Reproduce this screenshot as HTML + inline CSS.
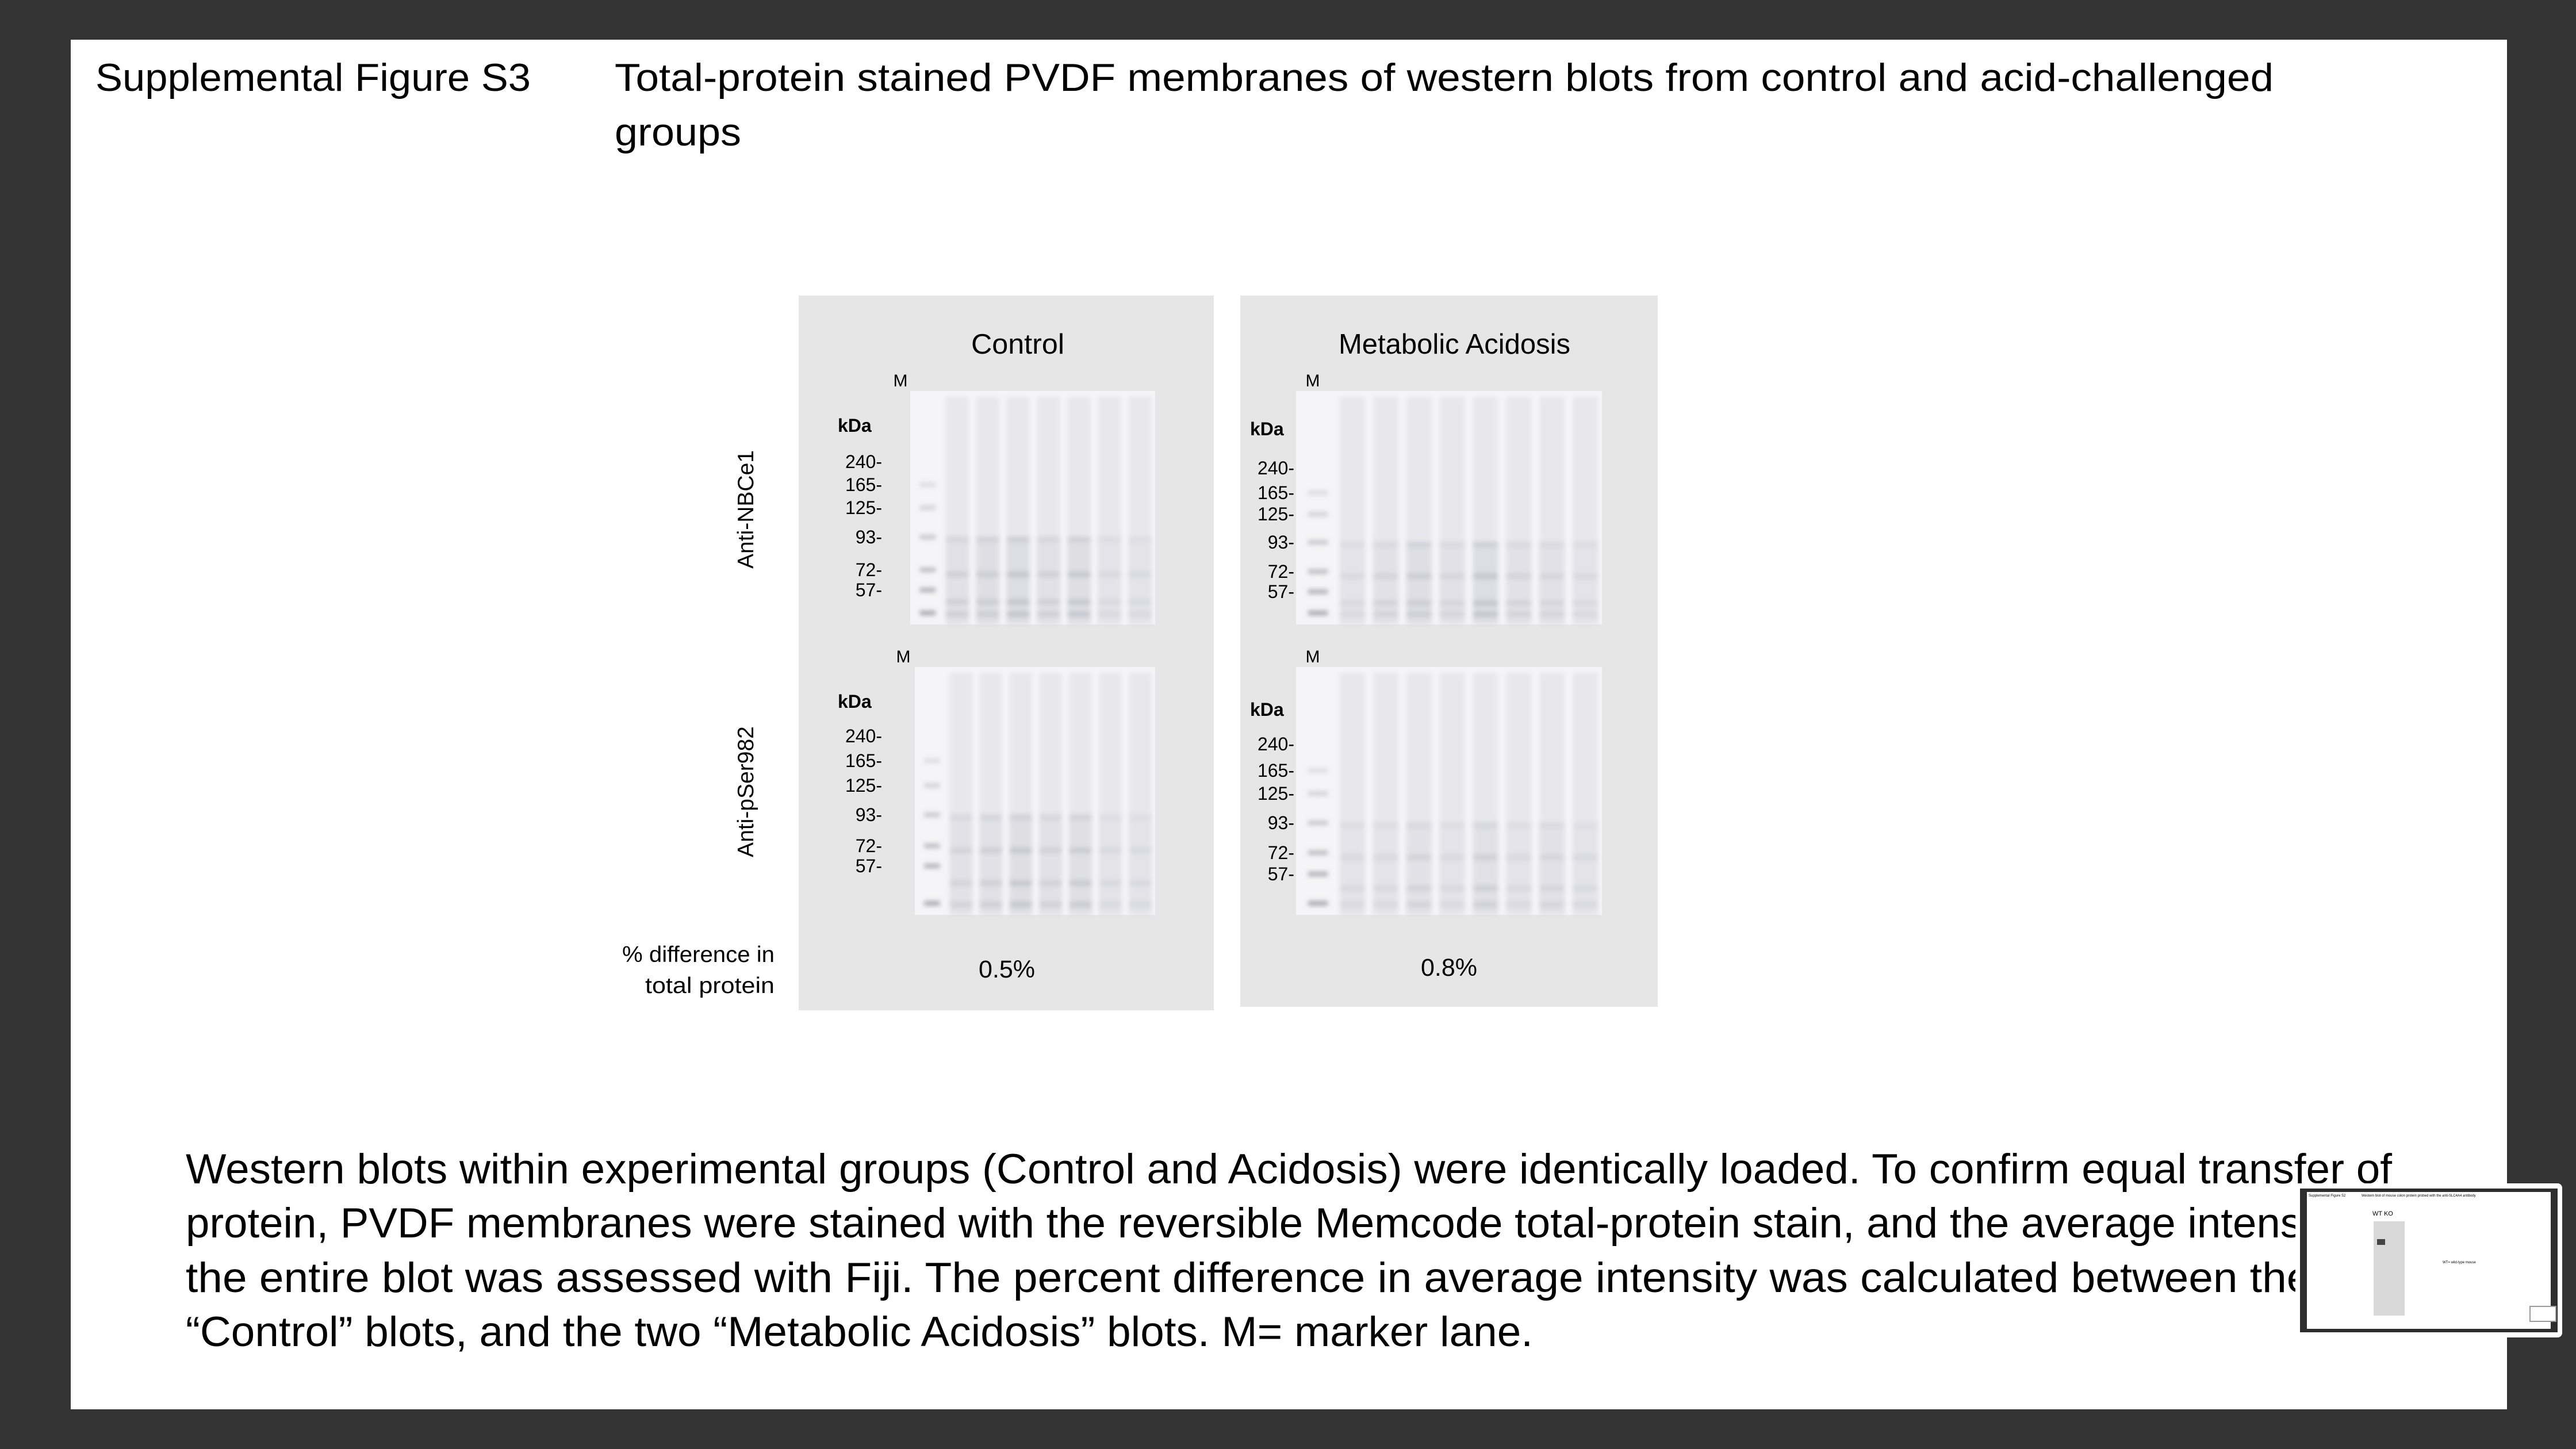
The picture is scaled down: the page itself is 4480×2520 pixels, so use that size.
<!DOCTYPE html>
<html><head><meta charset="utf-8"><style>
html,body{margin:0;padding:0;background:#333;}
svg{display:block;}
text{font-family:"Liberation Sans",sans-serif;fill:#000;}
</style></head><body>
<svg width="4480" height="2520" viewBox="0 0 4480 2520">
<defs>
<filter id="blur2"><feGaussianBlur stdDeviation="4"/></filter>
</defs>
<rect x="0" y="0" width="4480" height="2520" fill="#333333"/>
<rect x="123" y="69" width="4237" height="2382" fill="#ffffff"/>

<text x="166" y="158" font-size="68" textLength="757" lengthAdjust="spacingAndGlyphs">Supplemental Figure S3</text>
<text x="1069" y="158" font-size="68" textLength="2885" lengthAdjust="spacingAndGlyphs">Total-protein stained PVDF membranes of western blots from control and acid-challenged</text>
<text x="1069" y="253" font-size="68" textLength="220" lengthAdjust="spacingAndGlyphs">groups</text>

<rect x="1389" y="514" width="722" height="1243" fill="#e6e6e6"/>
<rect x="2157" y="514" width="726" height="1237" fill="#e6e6e6"/>
<text x="1689" y="615" font-size="49" textLength="162" lengthAdjust="spacingAndGlyphs">Control</text>
<text x="2328" y="615" font-size="49" textLength="403" lengthAdjust="spacingAndGlyphs">Metabolic Acidosis</text>

<text transform="translate(1310,886) rotate(-90)" text-anchor="middle" font-size="39">Anti-NBCe1</text>
<text transform="translate(1310,1377) rotate(-90)" text-anchor="middle" font-size="39">Anti-pSer982</text>

<text x="1347" y="1673" text-anchor="end" font-size="39" textLength="265" lengthAdjust="spacingAndGlyphs">% difference in</text>
<text x="1347" y="1727" text-anchor="end" font-size="39" textLength="225" lengthAdjust="spacingAndGlyphs">total protein</text>
<text x="1751" y="1700" text-anchor="middle" font-size="43">0.5%</text>
<text x="2520" y="1697" text-anchor="middle" font-size="43">0.8%</text>

<g id="blots"></g>

<g>
<text x="323" y="2058" font-size="73" textLength="3837" lengthAdjust="spacingAndGlyphs">Western blots within experimental groups (Control and Acidosis) were identically loaded. To confirm equal transfer of</text>
<text x="323" y="2152" font-size="73" textLength="3837" lengthAdjust="spacingAndGlyphs">protein, PVDF membranes were stained with the reversible Memcode total-protein stain, and the average intensity of</text>
<text x="323" y="2247" font-size="73" textLength="3837" lengthAdjust="spacingAndGlyphs">the entire blot was assessed with Fiji. The percent difference in average intensity was calculated between the two</text>
<text x="323" y="2341" font-size="73" textLength="2343" lengthAdjust="spacingAndGlyphs">“Control” blots, and the two “Metabolic Acidosis” blots. M= marker lane.</text>
</g>

<g>
<rect x="3992" y="2058" width="464" height="268" rx="8" fill="#ffffff"/>
<rect x="4000" y="2067" width="448" height="250" fill="#2e2e2e"/>
<rect x="4012" y="2073" width="424" height="238" fill="#ffffff"/>
<text x="4015" y="2081" font-size="6" fill="#444">Supplemental Figure S2</text>
<text x="4107" y="2081" font-size="6" fill="#444">Western blot of mouse colon protein probed with the anti-SLC4A4 antibody</text>
<text x="4126" y="2114" font-size="11">WT  KO</text>
<rect x="4128" y="2124" width="54" height="164" fill="#d8d8d8"/>
<rect x="4134" y="2155" width="14" height="10" fill="#444"/>
<text x="4248" y="2197" font-size="6" fill="#333">WT= wild-type mouse</text>
<rect x="4400" y="2272" width="45" height="26" fill="#fff" stroke="#999" stroke-width="2"/>
</g>
</svg>
<script>
const blotNames = ['control-nbce1','control-pser982','acidosis-nbce1','acidosis-pser982'];
const blotX = [1583,1591,2254,2254];
const blotY = [680,1160,680,1160];
const blotW = [426,418,532,532];
const blotH = [406,431,406,431];
const laneIntensity = [
  [0.55,0.6,0.75,0.55,0.7,0.35,0.3],
  [0.45,0.55,0.7,0.5,0.65,0.3,0.3],
  [0.35,0.45,0.6,0.4,0.75,0.45,0.4,0.35],
  [0.35,0.35,0.45,0.35,0.55,0.35,0.4,0.3]
];
const kdaLabels = ['240-','165-','125-','93-','72-','57-'];
const kdaY = [
  [803,843,883,934,991,1026],
  [1280,1323,1366,1417,1471,1506],
  [814,857,894,943,994,1029],
  [1294,1340,1380,1431,1483,1520]
];
const kdaTitleY = [740,1220,746,1234];
const kdaX = [1534,1534,2251,2251];
const mX = [1566,1571,2283,2283];
const mY = [672,1152,672,1152];
const NS = 'http://www.w3.org/2000/svg';
const g = document.getElementById('blots');
function mk(tag, attrs){const e=document.createElementNS(NS,tag);for(const k in attrs)e.setAttribute(k,attrs[k]);return e;}
for(let b=0;b<4;b++){
  const grp = mk('g',{});
  
  
  const x=blotX[b], y=blotY[b], w=blotW[b], h=blotH[b];
  const bg = mk('rect',{x:x,y:y,width:w,height:h,fill:'#f5f5f7'});
  
  
  grp.appendChild(bg);
  const lanes = laneIntensity[b];
  const mw = w*0.13;
  const lw = (w-mw)/lanes.length;
  const ky = kdaY[b];
  const inner = mk('g',{filter:'url(#blur2)'});
  const markerYs = ky.slice(1).concat([y+h-20]);
  markerYs.forEach(function(my,i){
    const r = mk('rect',{x:x+mw*0.3,y:my-4,width:mw*0.5,height:8,fill:'#8e8e98',opacity:0.25+i*0.1});
    
    
    inner.appendChild(r);
  });
  lanes.forEach(function(v,i){
    const lx = x+mw+i*lw+lw*0.12;
    const lane = mk('rect',{x:lx,y:y+10,width:lw*0.76,height:h-10,fill:'#dcdce2',opacity:0.5});
    
    
    inner.appendChild(lane);
    const smear = mk('rect',{x:lx,y:ky[3],width:lw*0.76,height:y+h-ky[3],fill:'#cfcfd8',opacity:v*0.55});
    
    
    inner.appendChild(smear);
    [ky[3]+4, ky[4]+8, ky[5]+(y+h-ky[5])*0.35, y+h-18].forEach(function(by,j){
      const band = mk('rect',{x:lx,y:by-5,width:lw*0.76,height:10,fill:'#a9a9b4',opacity:v*(j===0?0.4:0.6)});
      
      
      inner.appendChild(band);
    });
  });
  grp.appendChild(inner);
  const kt = mk('text',{x:kdaX[b]-77,y:kdaTitleY[b]+11,'font-size':32,'font-weight':'bold'});
  kt.textContent='kDa';
  
  
  grp.appendChild(kt);
  kdaLabels.forEach(function(lab,i){
    const t = mk('text',{x:kdaX[b],y:kdaY[b][i]+11,'font-size':32,'text-anchor':'end'});
    t.textContent=lab;
    
    
    grp.appendChild(t);
  });
  const m = mk('text',{x:mX[b],y:mY[b],'font-size':30,'text-anchor':'middle'});
  m.textContent='M';
  
  
  grp.appendChild(m);
  g.appendChild(grp);
}
</script>
</body></html>
